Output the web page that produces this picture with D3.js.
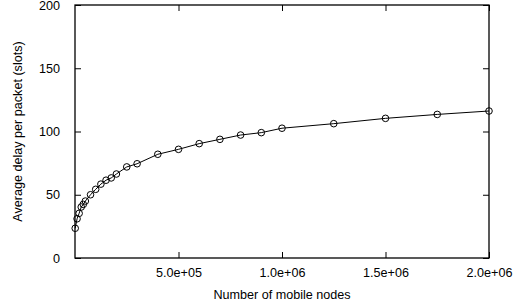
<!DOCTYPE html>
<html>
<head>
<meta charset="utf-8">
<script src="https://cdn.jsdelivr.net/npm/d3@7"></script>
<style>
  body { margin: 0; background: #fff; }
  svg { display: block; }
  text { font-family: "Liberation Sans", Arial, sans-serif; fill: #000; }
</style>
</head>
<body>
<svg id="chart"></svg>
<script>
// data
var nodes = [1000, 10000, 20000, 30000, 40000, 50000, 75000, 100000, 125000,
             150000, 175000, 200000, 250000, 300000, 400000, 500000, 600000,
             700000, 800000, 900000, 1000000, 1250000, 1500000, 1750000, 2000000];
var delay = [23.5, 31, 35.3, 40.3, 42.4, 45, 50, 54.3, 58.4,
             61.5, 63.3, 66.4, 72, 74.5, 82, 85.9, 90.4,
             93.8, 97.2, 99.1, 102.6, 106.2, 110.4, 113.5, 116.2];
var xTicks = [500000, 1000000, 1500000, 2000000];
var yTicks = [0, 50, 100, 150, 200];

var chart = {
  margin: { top: 5, right: 27, bottom: 49, left: 75 },
  width: 516,
  height: 307,
  fontSize: 12.6,

  init: function() {
    var self = this;
    self.w = self.width - self.margin.left - self.margin.right;
    self.h = self.height - self.margin.top - self.margin.bottom;

    self.svg = d3.select('#chart')
      .attr('width', self.width)
      .attr('height', self.height);

    self.g = self.svg.append('g')
      .attr('transform', 'translate(' + self.margin.left + ',' + self.margin.top + ')');

    self.x = d3.scaleLinear().domain([0, 2000000]).range([0, self.w]);
    self.y = d3.scaleLinear().domain([0, 200]).range([self.h, 0]);

    self.drawAxes();
    self.drawSeries();
  },

  drawAxes: function() {
    var self = this;
    var tl = 6;
    var fmt = function(d) { return d.toExponential(1).replace(/e([+-])(\d)$/, 'e$10$2'); };

    // inward ticks, mirrored on all four sides
    self.g.append('g')
      .attr('transform', 'translate(0,' + self.h + ')')
      .call(d3.axisBottom(self.x).tickValues(xTicks).tickSizeInner(-tl).tickSizeOuter(0)
        .tickPadding(10).tickFormat(fmt));
    self.g.append('g')
      .call(d3.axisTop(self.x).tickValues(xTicks).tickSizeInner(-tl).tickSizeOuter(0)
        .tickFormat(''));
    self.g.append('g')
      .call(d3.axisLeft(self.y).tickValues(yTicks).tickSizeInner(-tl).tickSizeOuter(0)
        .tickPadding(15));
    self.g.append('g')
      .attr('transform', 'translate(' + self.w + ',0)')
      .call(d3.axisRight(self.y).tickValues(yTicks).tickSizeInner(-tl).tickSizeOuter(0)
        .tickFormat(''));

    self.g.selectAll('.domain').remove();
    self.g.selectAll('.tick line').attr('stroke', '#000');
    self.g.selectAll('.tick text').attr('font-size', self.fontSize)
      .attr('font-family', '"Liberation Sans", Arial, sans-serif');

    self.g.append('rect')
      .attr('width', self.w)
      .attr('height', self.h)
      .attr('fill', 'none')
      .attr('stroke', '#000')
      .attr('stroke-width', 1.3);

    self.svg.append('text')
      .attr('x', self.margin.left + self.w / 2)
      .attr('y', 299)
      .attr('text-anchor', 'middle')
      .attr('font-size', self.fontSize)
      .text('Number of mobile nodes');

    self.svg.append('text')
      .attr('transform', 'translate(22,' + (self.margin.top + self.h / 2) + ') rotate(-90)')
      .attr('text-anchor', 'middle')
      .attr('font-size', self.fontSize)
      .text('Average delay per packet (slots)');
  },

  drawSeries: function() {
    var self = this;
    var pts = nodes.map(function(n, i) { return [n, delay[i]]; });

    self.g.append('path')
      .datum(pts)
      .attr('fill', 'none')
      .attr('stroke', '#000')
      .attr('stroke-width', 1)
      .attr('d', d3.line()
        .x(function(d) { return self.x(d[0]); })
        .y(function(d) { return self.y(d[1]); }));

    self.g.selectAll('.pt')
      .data(pts)
      .enter().append('circle')
      .attr('class', 'pt')
      .attr('cx', function(d) { return self.x(d[0]); })
      .attr('cy', function(d) { return self.y(d[1]); })
      .attr('r', 3.3)
      .attr('fill', 'none')
      .attr('stroke', '#000')
      .attr('stroke-width', 1);
  }
};

chart.init();
</script>
</body>
</html>
